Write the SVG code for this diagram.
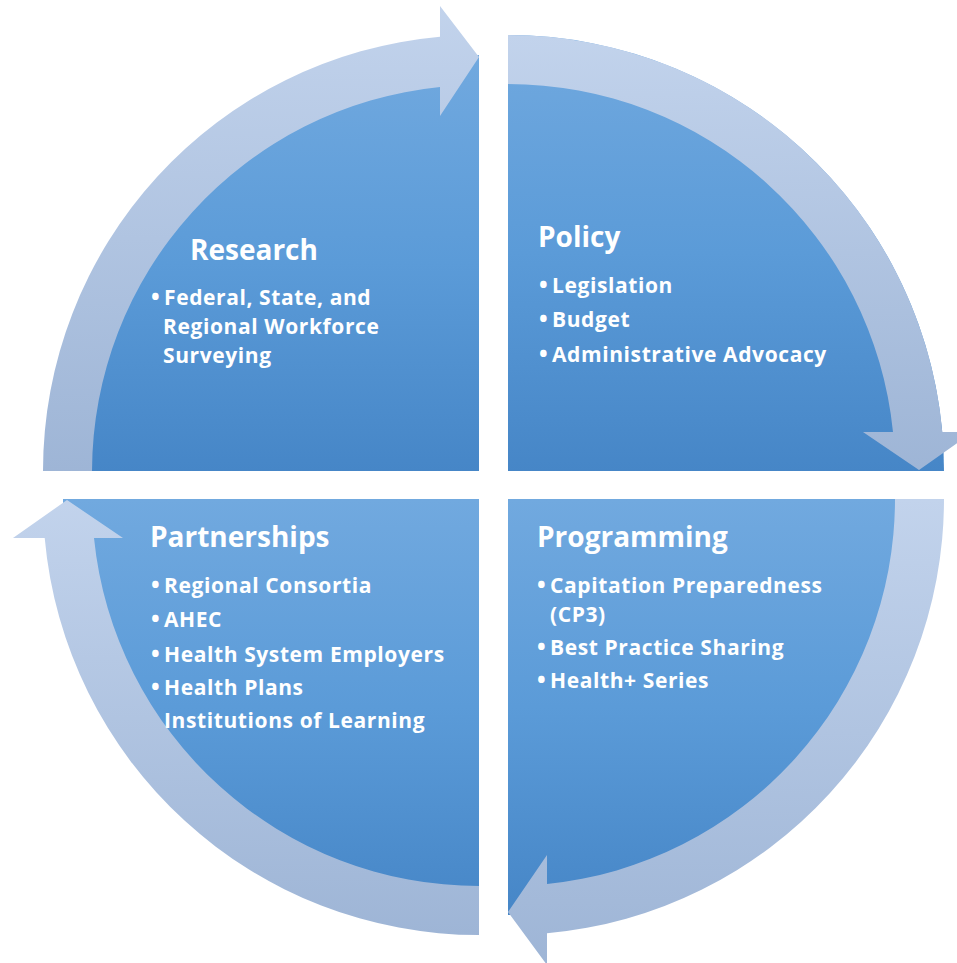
<svg xmlns="http://www.w3.org/2000/svg" width="957" height="963" viewBox="0 0 957 963">
<defs>
<linearGradient id="secT" x1="0" y1="0" x2="0" y2="1">
<stop offset="0" stop-color="#71A9DF"/>
<stop offset="0.5" stop-color="#5B9BD8"/>
<stop offset="1" stop-color="#4686C7"/>
</linearGradient>
<linearGradient id="band" x1="0" y1="0" x2="0" y2="1">
<stop offset="0" stop-color="#C2D3EC"/>
<stop offset="1" stop-color="#9EB5D6"/>
</linearGradient>
</defs>
<style>
.sector{fill:url(#secT);}
.band{fill:url(#band);}
.title{font-family:"Open Sans","Liberation Sans",sans-serif;font-weight:700;font-size:28px;fill:#FFFFFF;}
.item{font-family:"Open Sans","Liberation Sans",sans-serif;font-weight:700;font-size:21px;fill:#FFFFFF;letter-spacing:0.6px;}
.bul{font-size:23px;letter-spacing:0;}
</style>
<g id="node-research">
<path class="sector" d="M479,471 L63,471 A416,416 0 0 1 479,55 Z"/>
</g>
<g id="node-policy">
<path class="sector" d="M508,471 L508,35 A436,436 0 0 1 944,471 Z"/>
</g>
<g id="node-programming">
<path class="sector" d="M508,499 L924,499 A416,416 0 0 1 508,915 Z"/>
</g>
<g id="node-partnerships">
<path class="sector" d="M479,499 L479,915 A416,416 0 0 1 63,499 Z"/>
</g>
<g id="connectors">
<path class="band" d="M43,471 A436,436 0 0 1 440,36.7 L440,6 L479,57 L440,116 L440,87 A387,387 0 0 0 92,471 Z"/>
<path class="band" d="M508,35 A436,436 0 0 1 942.3,432 L973,432 L919,470 L863,432 L893,432 A387,387 0 0 0 508,84 Z"/>
<path class="band" d="M944,499 A436,436 0 0 1 547,933.3 L547,965 L508,912 L547,855 L547,884 A387,387 0 0 0 895,499 Z"/>
<path class="band" d="M479,935 A436,436 0 0 1 44.7,538 L13,538 L67,500 L123,538 L94,538 A387,387 0 0 0 479,886 Z"/>
</g>
<g id="label-research">
<text class="title" x="190" y="260">Research</text>
<text class="item" y="305"><tspan class="bul" x="151">•</tspan><tspan x="164">Federal, State, and</tspan></text>
<text class="item" x="163" y="334">Regional Workforce</text>
<text class="item" x="163" y="363">Surveying</text>
</g>
<g id="label-policy">
<text class="title" x="538" y="247">Policy</text>
<text class="item" y="293"><tspan class="bul" x="539">•</tspan><tspan x="552">Legislation</tspan></text>
<text class="item" y="327"><tspan class="bul" x="539">•</tspan><tspan x="552">Budget</tspan></text>
<text class="item" y="362"><tspan class="bul" x="539">•</tspan><tspan x="552">Administrative Advocacy</tspan></text>
</g>
<g id="label-partnerships">
<text class="title" x="150" y="547">Partnerships</text>
<text class="item" y="593"><tspan class="bul" x="151">•</tspan><tspan x="164">Regional Consortia</tspan></text>
<text class="item" y="627"><tspan class="bul" x="151">•</tspan><tspan x="164">AHEC</tspan></text>
<text class="item" y="662"><tspan class="bul" x="151">•</tspan><tspan x="164">Health System Employers</tspan></text>
<text class="item" y="695"><tspan class="bul" x="151">•</tspan><tspan x="164">Health Plans</tspan></text>
<text class="item" x="164" y="728">Institutions of Learning</text>
</g>
<g id="label-programming">
<text class="title" x="537" y="547">Programming</text>
<text class="item" y="593"><tspan class="bul" x="537">•</tspan><tspan x="550">Capitation Preparedness</tspan></text>
<text class="item" x="550" y="622">(CP3)</text>
<text class="item" y="655"><tspan class="bul" x="537">•</tspan><tspan x="550">Best Practice Sharing</tspan></text>
<text class="item" y="688"><tspan class="bul" x="537">•</tspan><tspan x="550">Health+ Series</tspan></text>
</g>
</svg>
